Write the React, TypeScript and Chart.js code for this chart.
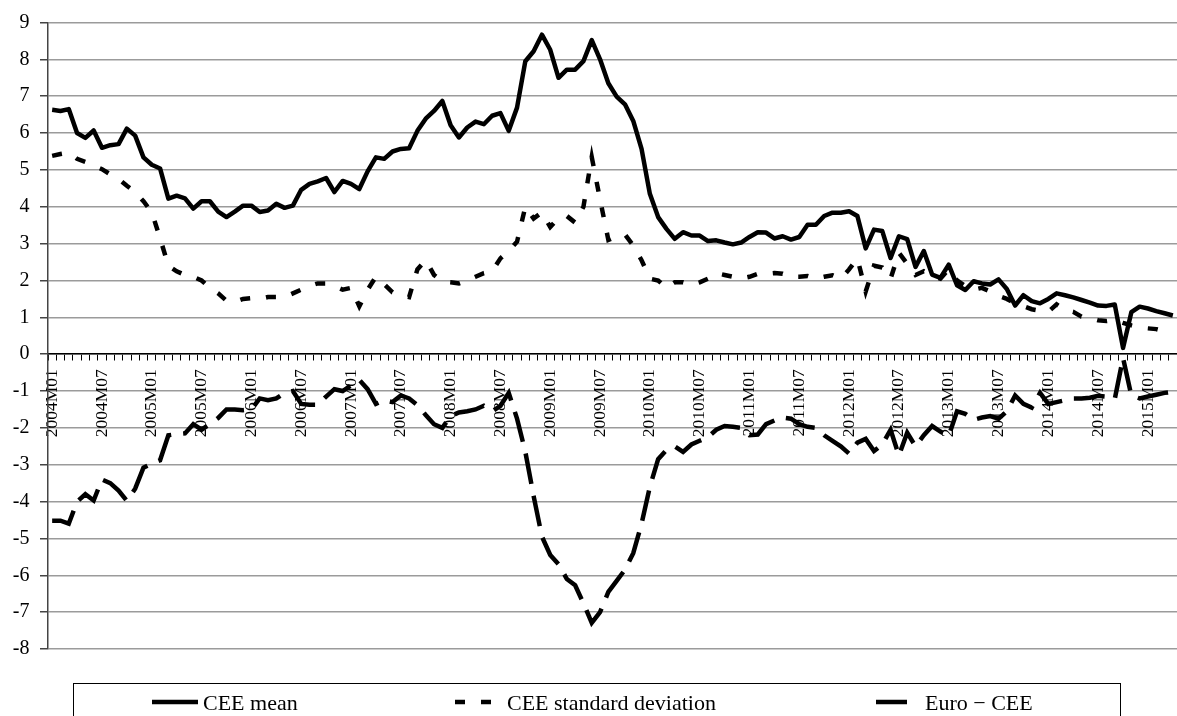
import React, { useEffect, useRef } from 'react';
import { Chart, registerables } from 'chart.js';

Chart.register(...registerables);

const START_YEAR = 2004;
const MONTH_COUNT = 136;
const months: string[] = Array.from({ length: MONTH_COUNT }, (_, i) =>
  `${START_YEAR + Math.floor(i / 12)}M${String((i % 12) + 1).padStart(2, '0')}`
);

const seriesLabels = ['CEE mean', 'CEE standard deviation', 'Euro \u2212 CEE'];

const ceeMean = [
  6.63, 6.6, 6.65, 6.0, 5.87, 6.07, 5.6, 5.67, 5.7, 6.12, 5.93, 5.34,
  5.14, 5.04, 4.22, 4.3, 4.23, 3.95, 4.15, 4.15, 3.87, 3.72, 3.87, 4.03,
  4.03, 3.86, 3.9, 4.08, 3.97, 4.03, 4.46, 4.62, 4.69, 4.78, 4.4, 4.7,
  4.62, 4.48, 4.96, 5.34, 5.3, 5.5, 5.57, 5.59, 6.06, 6.39, 6.6, 6.87,
  6.21, 5.88, 6.15, 6.31, 6.24, 6.47, 6.54, 6.06, 6.69, 7.95, 8.22, 8.67,
  8.26, 7.5, 7.72, 7.72, 7.95, 8.52, 8.0, 7.35, 6.99, 6.78, 6.33, 5.57,
  4.35, 3.72, 3.4, 3.13, 3.31, 3.22, 3.22, 3.07, 3.09, 3.03, 2.98, 3.03,
  3.18, 3.31, 3.3, 3.14, 3.2, 3.11, 3.18, 3.51, 3.51, 3.75, 3.84, 3.84,
  3.88, 3.75, 2.87, 3.38, 3.34, 2.61, 3.2, 3.12, 2.37, 2.8, 2.16, 2.07,
  2.43, 1.87, 1.74, 1.98, 1.92, 1.89, 2.03, 1.77, 1.32, 1.6, 1.44, 1.38,
  1.5, 1.65, 1.6, 1.54, 1.47, 1.4, 1.32, 1.31, 1.35, 0.17, 1.14, 1.29,
  1.24, 1.17, 1.11, 1.05,
];

const ceeStd = [
  5.38, 5.43, 5.47, 5.3, 5.22, 5.12, 5.02, 4.88, 4.75, 4.57, 4.4, 4.15,
  3.85, 3.15, 2.4, 2.25, 2.15, 2.1, 2.0, 1.8, 1.65, 1.45, 1.42, 1.5,
  1.52, 1.5, 1.55, 1.55, 1.55, 1.65, 1.75, 1.85, 1.92, 1.92, 1.85, 1.75,
  1.8, 1.3, 1.75, 2.1, 1.9, 1.68, 1.6, 1.55, 2.3, 2.55, 2.15, 1.97,
  1.95, 1.92, 2.0, 2.1, 2.2, 2.25, 2.6, 2.8, 3.05, 4.0, 3.68, 3.85,
  3.45, 3.7, 3.75, 3.57, 4.0, 5.35, 4.2, 3.1, 3.2, 3.25, 2.95, 2.55,
  2.05, 2.0, 1.8, 1.95, 1.95, 1.88, 1.95, 2.05, 2.2, 2.15, 2.1, 2.05,
  2.1, 2.18, 2.18, 2.2, 2.18, 2.1, 2.1, 2.12, 2.05, 2.1, 2.14, 2.05,
  2.3, 2.6, 1.7, 2.4, 2.35, 2.05, 2.75, 2.45, 2.15, 2.25, 2.12, 2.05,
  2.3, 2.0, 1.85, 1.75, 1.8, 1.7, 1.58, 1.5, 1.38, 1.3, 1.22, 1.18,
  1.15, 1.35, 1.2, 1.15, 1.02, 0.98, 0.92, 0.9, 0.93, 0.85, 0.78, 0.72,
  0.7, 0.68, 0.62, 0.55,
];

const euroMinusCee = [
  -4.52, -4.52, -4.6, -4.0, -3.8, -3.97, -3.4, -3.5, -3.7, -3.98, -3.65, -3.08,
  -2.97, -2.88, -2.2, -2.17, -2.15, -1.9, -2.05, -1.9, -1.73, -1.5, -1.5, -1.52,
  -1.5, -1.2, -1.25, -1.2, -1.05, -1.0, -1.35, -1.37, -1.37, -1.15, -0.95, -1.0,
  -0.85, -0.7, -0.95, -1.35, -1.25, -1.3, -1.12, -1.2, -1.38, -1.65, -1.9, -2.0,
  -1.68, -1.58, -1.55, -1.5, -1.4, -1.55, -1.4, -1.05, -1.75, -2.65, -3.85, -4.95,
  -5.45, -5.7, -6.1, -6.27, -6.76, -7.29, -7.0, -6.45, -6.15, -5.85, -5.4, -4.6,
  -3.6, -2.85, -2.6, -2.5, -2.65, -2.45, -2.35, -2.25, -2.05, -1.95, -1.97, -2.0,
  -2.2, -2.18, -1.9, -1.8, -1.72, -1.75, -1.9, -1.97, -2.0, -2.2, -2.35, -2.5,
  -2.7, -2.4, -2.3, -2.63, -2.45, -2.05, -2.75, -2.13, -2.5, -2.2, -1.95, -2.1,
  -2.22, -1.55, -1.62, -1.78, -1.72, -1.68, -1.75, -1.55, -1.12, -1.35, -1.45, -1.05,
  -1.35, -1.3, -1.25, -1.2, -1.2, -1.18, -1.13, -1.15, -1.22, -0.1, -1.12, -1.2,
  -1.15, -1.1, -1.05, -1.02,
];

const yMin = -8;
const yMax = 9;
const yStep = 1;
const shownTickSuffixes = ['M01', 'M07'];

const FONT = "'Liberation Serif', 'Times New Roman', serif";

const boxLegend = {
  id: 'boxLegend',
  afterDraw(chart: any, _args: any, opts: any) {
    const ctx = chart.ctx as CanvasRenderingContext2D;
    ctx.save();
    ctx.strokeStyle = '#000';
    ctx.lineWidth = 1;
    ctx.setLineDash([]);
    ctx.strokeRect(opts.left + 0.5, opts.top + 0.5, opts.right - opts.left, 80);
    ctx.font = `${opts.fontSize}px ${FONT}`;
    ctx.fillStyle = '#000';
    ctx.textBaseline = 'alphabetic';
    ctx.textAlign = 'left';
    chart.data.datasets.forEach((ds: any, i: number) => {
      const it = opts.items[i];
      ctx.beginPath();
      ctx.strokeStyle = ds.borderColor;
      ctx.lineWidth = ds.borderWidth;
      ctx.lineCap = 'butt';
      ctx.setLineDash(ds.borderDash || []);
      ctx.moveTo(it.x, opts.lineY);
      ctx.lineTo(it.x + it.w, opts.lineY);
      ctx.stroke();
      ctx.setLineDash([]);
      ctx.fillText(ds.label, it.textX, opts.baseline);
    });
    ctx.restore();
  },
};

export default function App() {
  const canvasRef = useRef<HTMLCanvasElement | null>(null);

  useEffect(() => {
    if (!canvasRef.current) return;
    Chart.defaults.font.family = FONT;
    const chart = new Chart(canvasRef.current, {
      type: 'line',
      data: {
        labels: months,
        datasets: [
          {
            label: seriesLabels[0],
            data: ceeMean,
            borderColor: '#000',
            borderWidth: 4.5,
            pointRadius: 0,
            borderJoinStyle: 'round',
            tension: 0,
          },
          {
            label: seriesLabels[1],
            data: ceeStd,
            borderColor: '#000',
            borderWidth: 4.5,
            borderDash: [10, 16],
            pointRadius: 0,
            tension: 0,
          },
          {
            label: seriesLabels[2],
            data: euroMinusCee,
            borderColor: '#000',
            borderWidth: 4.5,
            borderDash: [31, 12],
            pointRadius: 0,
            tension: 0,
          },
        ],
      },
      options: {
        animation: false,
        responsive: true,
        maintainAspectRatio: false,
        layout: { padding: { top: 18, bottom: 67, left: 0, right: -4 } },
        plugins: {
          legend: { display: false },
          tooltip: { enabled: false },
          boxLegend: {
            left: 73,
            right: 1120,
            top: 683,
            lineY: 702,
            baseline: 710,
            fontSize: 22,
            items: [
              { x: 152, w: 46, textX: 203 },
              { x: 455, w: 38, textX: 507 },
              { x: 876, w: 34, textX: 925 },
            ],
          },
        } as any,
        scales: {
          x: {
            type: 'category',
            position: { y: 0 } as any,
            offset: true,
            grid: {
              offset: true,
              drawOnChartArea: false,
              drawTicks: true,
              tickLength: 6,
              tickColor: '#000',
              lineWidth: 1,
            },
            border: { display: true, color: '#000', width: 1.5 },
            ticks: {
              autoSkip: false,
              maxRotation: 90,
              minRotation: 90,
              padding: 9,
              color: '#000',
              font: { family: FONT, size: 17.5 },
              callback(this: any, value: any) {
                const l = this.getLabelForValue(value) as string;
                return shownTickSuffixes.some((s) => l.endsWith(s)) ? l : '';
              },
            },
            afterFit(s: any) {
              s.paddingLeft = 0;
              s.paddingRight = 0;
            },
          },
          y: {
            min: yMin,
            max: yMax,
            ticks: {
              stepSize: yStep,
              color: '#000',
              padding: 10.5,
              font: { family: FONT, size: 20 },
            },
            grid: {
              color: '#9b9b9b',
              lineWidth: 1.5,
              tickLength: 8,
              tickColor: '#444',
            },
            border: { display: true, color: '#444', width: 1.5 },
            afterFit(s: any) {
              s.width = 48;
            },
          },
        },
      },
      plugins: [boxLegend as any],
    });
    return () => chart.destroy();
  }, []);

  return (
    <div style={{ position: 'fixed', left: 0, top: 0, width: 1177, height: 716, background: '#fff' }}>
      <canvas ref={canvasRef} />
    </div>
  );
}
